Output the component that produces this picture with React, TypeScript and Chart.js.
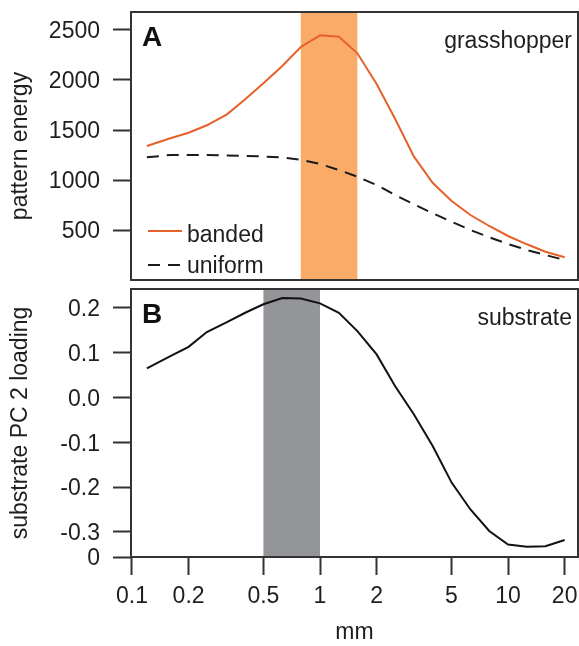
import React, { useEffect, useRef } from 'react';
import { Chart, registerables } from 'chart.js';

Chart.register(...registerables);

// ---------- data ----------
const sizesMm = [0.12, 0.16, 0.2, 0.25, 0.32, 0.4, 0.5, 0.63, 0.79, 1.0, 1.26, 1.58, 2.0, 2.51, 3.16, 3.98, 5.01, 6.31, 7.94, 10.0, 12.6, 15.8, 20.0];
const bandedEnergy = [1340, 1417, 1473, 1547, 1657, 1807, 1967, 2140, 2330, 2447, 2433, 2267, 1960, 1610, 1233, 970, 790, 650, 540, 440, 357, 283, 227];
const uniformEnergy = [1227, 1250, 1250, 1250, 1245, 1240, 1235, 1225, 1203, 1160, 1100, 1033, 950, 850, 757, 667, 583, 500, 427, 360, 300, 250, 200];
const substratePC2 = [0.065, 0.092, 0.113, 0.146, 0.168, 0.189, 0.208, 0.222, 0.221, 0.21, 0.189, 0.148, 0.096, 0.025, -0.038, -0.109, -0.19, -0.25, -0.298, -0.328, -0.333, -0.332, -0.318];

const energyTicks = [500, 1000, 1500, 2000, 2500];
const pcTicks = [0.2, 0.1, 0.0, -0.1, -0.2, -0.3, -0.356];
const pcTickLabels = ['0.2', '0.1', '0.0', '-0.1', '-0.2', '-0.3', '0'];
const xTicks = [0.1, 0.2, 0.5, 1, 2, 5, 10, 20];
const xTickLabels = ['0.1', '0.2', '0.5', '1', '2', '5', '10', '20'];

const orangeBand = [0.79, 1.58];
const grayBand = [0.5, 1.0];

const X_MIN = 0.0988;
const X_MAX = 23.55;
const ENERGY_MIN = 0;
const ENERGY_MAX = 2680;
const PC_MIN = -0.356;
const PC_MAX = 0.242;

// ---------- styles ----------
const FAMILY = "'Liberation Sans', Arial, Helvetica, sans-serif";
const TEXT = '#1e1e1e';
const AXIS = '#333333';
const ORANGE_LINE = '#E6612A';
const ORANGE_FILL = '#FBAB68';
const GRAY_FILL = '#939598';
const font = { family: FAMILY, size: 23 };

function bandPlugin(id: string, band: number[], color: string) {
  return {
    id,
    beforeDatasetsDraw(chart: any) {
      const { ctx, chartArea, scales } = chart;
      const x1 = scales.x.getPixelForValue(band[0]);
      const x2 = scales.x.getPixelForValue(band[1]);
      ctx.save();
      ctx.fillStyle = color;
      ctx.fillRect(x1, chartArea.top, x2 - x1, chartArea.bottom - chartArea.top);
      ctx.restore();
    },
  };
}

function overlayPlugin(id: string, letter: string, label: string, legend: boolean) {
  return {
    id,
    afterDraw(chart: any) {
      const { ctx, chartArea } = chart;
      const { left, top, right, bottom } = chartArea;
      ctx.save();
      // box
      ctx.strokeStyle = AXIS;
      ctx.lineWidth = 2;
      ctx.strokeRect(left, top, right - left, bottom - top);
      // panel letter
      ctx.fillStyle = '#111';
      ctx.font = `bold 28px ${FAMILY}`;
      ctx.textAlign = 'left';
      ctx.textBaseline = 'alphabetic';
      ctx.fillText(letter, left + 11, top + 34);
      // label
      ctx.fillStyle = TEXT;
      ctx.font = `23px ${FAMILY}`;
      ctx.textAlign = 'right';
      ctx.fillText(label, right - 6, top + 36);
      if (legend) {
        ctx.textAlign = 'left';
        ctx.lineWidth = 2;
        ctx.strokeStyle = ORANGE_LINE;
        ctx.beginPath();
        ctx.moveTo(left + 17, top + 219);
        ctx.lineTo(left + 51, top + 219);
        ctx.stroke();
        ctx.fillText('banded', left + 56, top + 230);
        ctx.strokeStyle = '#1a1a1a';
        ctx.setLineDash([12, 8]);
        ctx.beginPath();
        ctx.moveTo(left + 17, top + 253);
        ctx.lineTo(left + 51, top + 253);
        ctx.stroke();
        ctx.setLineDash([]);
        ctx.fillText('uniform', left + 56, top + 261);
      }
      ctx.restore();
    },
  };
}

const tickGrid = {
  drawOnChartArea: false,
  drawTicks: true,
  tickLength: 18,
  tickWidth: 2,
  tickColor: AXIS,
};

function fitY(s: any) {
  s.width = 131;
  s.paddingTop = 0;
  s.paddingBottom = 0;
}
function fitX(s: any) {
  s.height = 89;
  s.paddingLeft = 0;
  s.paddingRight = 0;
}

export default function App() {
  const refA = useRef<HTMLCanvasElement>(null);
  const refB = useRef<HTMLCanvasElement>(null);

  useEffect(() => {
    const chartA = new Chart(refA.current as HTMLCanvasElement, {
      type: 'line',
      data: {
        datasets: [
          {
            label: 'banded',
            data: sizesMm.map((x, i) => ({ x, y: bandedEnergy[i] })),
            borderColor: ORANGE_LINE,
            borderWidth: 2,
            pointRadius: 0,
            tension: 0,
            fill: false,
          },
          {
            label: 'uniform',
            data: sizesMm.map((x, i) => ({ x, y: uniformEnergy[i] })),
            borderColor: '#1a1a1a',
            borderWidth: 2,
            borderDash: [12, 8],
            pointRadius: 0,
            tension: 0,
            fill: false,
          },
        ],
      },
      options: {
        animation: false,
        responsive: false,
        maintainAspectRatio: false,
        layout: { padding: { top: 12, right: 1, bottom: 10, left: 0 } },
        plugins: { legend: { display: false }, tooltip: { enabled: false } },
        scales: {
          x: { type: 'logarithmic', min: X_MIN, max: X_MAX, display: false },
          y: {
            min: ENERGY_MIN,
            max: ENERGY_MAX,
            afterFit: fitY,
            afterBuildTicks: (s: any) => { s.ticks = energyTicks.map((v) => ({ value: v })); },
            ticks: { font, color: TEXT, padding: 13, labelOffset: 2, callback: (v: any) => String(v) },
            grid: tickGrid,
            border: { display: false },
            title: { display: true, text: 'pattern energy', font, color: TEXT, padding: { top: 7, bottom: 0 } },
          },
        },
      } as any,
      plugins: [bandPlugin('bandA', orangeBand, ORANGE_FILL), overlayPlugin('ovA', 'A', 'grasshopper', true)],
    });

    const chartB = new Chart(refB.current as HTMLCanvasElement, {
      type: 'line',
      data: {
        datasets: [
          {
            label: 'substrate',
            data: sizesMm.map((x, i) => ({ x, y: substratePC2[i] })),
            borderColor: '#111',
            borderWidth: 2,
            pointRadius: 0,
            tension: 0,
            fill: false,
          },
        ],
      },
      options: {
        animation: false,
        responsive: false,
        maintainAspectRatio: false,
        layout: { padding: { top: 7, right: 1, bottom: 0, left: 0 } },
        plugins: { legend: { display: false }, tooltip: { enabled: false } },
        scales: {
          x: {
            type: 'logarithmic',
            min: X_MIN,
            max: X_MAX,
            afterFit: fitX,
            afterBuildTicks: (s: any) => { s.ticks = xTicks.map((v) => ({ value: v })); },
            ticks: {
              font,
              color: TEXT,
              padding: 8,
              autoSkip: false,
              maxRotation: 0,
              minRotation: 0,
              callback: (_v: any, i: number) => xTickLabels[i],
            },
            grid: tickGrid,
            border: { display: false },
            title: { display: true, text: 'mm', font, color: TEXT, padding: { top: 0, bottom: 0 } },
          },
          y: {
            min: PC_MIN,
            max: PC_MAX,
            afterFit: fitY,
            afterBuildTicks: (s: any) => { s.ticks = pcTicks.map((v) => ({ value: v })); },
            ticks: { font, color: TEXT, padding: 13, labelOffset: 2, callback: (_v: any, i: number) => pcTickLabels[i] },
            grid: tickGrid,
            border: { display: false },
            title: { display: true, text: 'substrate PC 2 loading', font, color: TEXT, padding: { top: 7, bottom: 0 } },
          },
        },
      } as any,
      plugins: [bandPlugin('bandB', grayBand, GRAY_FILL), overlayPlugin('ovB', 'B', 'substrate', false)],
    });

    return () => {
      chartA.destroy();
      chartB.destroy();
    };
  }, []);

  return (
    <div style={{ position: 'absolute', left: 0, top: 0, width: 579, height: 646, background: '#fff' }}>
      <canvas ref={refA} width={579} height={290} style={{ position: 'absolute', left: 0, top: 0, display: 'block' }} />
      <canvas ref={refB} width={579} height={364} style={{ position: 'absolute', left: 0, top: 282, display: 'block' }} />
    </div>
  );
}
